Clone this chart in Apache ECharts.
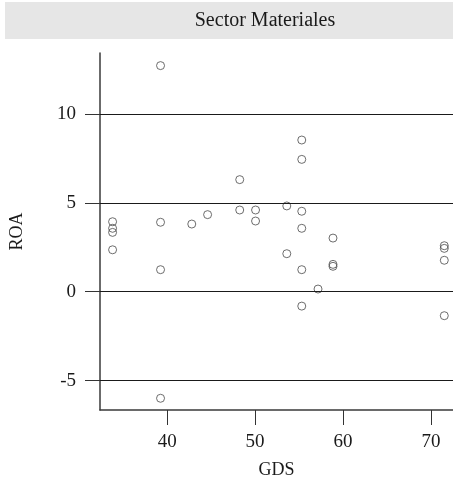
<!DOCTYPE html>
<html>
<head>
<meta charset="utf-8">
<script src="https://cdn.jsdelivr.net/npm/echarts@6/dist/echarts.min.js"></script>
<style>
  html, body { margin: 0; padding: 0; background: #fff; }
  #chart { width: 453px; height: 486px; }
</style>
</head>
<body>
<div id="chart"></div>
<script>
// Sector Materiales: GDS vs ROA, one point per firm
const panelTitle = 'Sector Materiales';
const gds = [
  33.8, 33.8, 33.8, 33.8,
  39.25, 39.25, 39.25, 39.25,
  42.8, 44.6,
  48.25, 48.25,
  50.05, 50.05,
  53.6, 53.6,
  55.3, 55.3, 55.3, 55.3, 55.3, 55.3,
  57.15,
  58.85, 58.85, 58.85,
  71.5, 71.5, 71.5, 71.5
];
const roa = [
  3.94, 3.57, 3.34, 2.36,
  12.73, 3.91, 1.24, -6.0,
  3.81, 4.34,
  6.31, 4.6,
  4.6, 3.98,
  4.83, 2.14,
  8.54, 7.45, 4.53, 3.57, 1.24, -0.81,
  0.15,
  3.02, 1.54, 1.43,
  2.59, 2.44, 1.77, -1.35
];
const xTicks = [40, 50, 60, 70];
const yTicks = [-5, 0, 5, 10];

const font = 'Liberation Serif, Times New Roman, serif';
const points = gds.map((g, i) => [g, roa[i]]);

const chart = echarts.init(document.getElementById('chart'), null, { renderer: 'canvas' });
chart.setOption({
  animation: false,
  backgroundColor: '#fff',
  graphic: [
    { type: 'rect', shape: { x: 5, y: 2, width: 448, height: 37 }, style: { fill: '#e6e6e6' }, silent: true },
    { type: 'text', x: 265, y: 21, style: { text: panelTitle, font: '20px ' + font, fill: '#1a1a1a', align: 'center', verticalAlign: 'middle' }, silent: true }
  ],
  grid: { left: 99, right: 0, top: 53, bottom: 76 },
  xAxis: {
    type: 'value',
    min: 32.37,
    max: 72.49,
    name: 'GDS',
    nameLocation: 'middle',
    nameGap: 51,
    nameTextStyle: { fontFamily: font, fontSize: 18, color: '#1a1a1a' },
    axisLine: { show: true, onZero: false, lineStyle: { color: '#3a3a3a', width: 1.5 } },
    axisTick: { show: true, length: 15, customValues: xTicks, lineStyle: { color: '#333', width: 1 } },
    axisLabel: { customValues: xTicks, margin: 23, fontFamily: font, fontSize: 19, color: '#1a1a1a' },
    splitLine: { show: false }
  },
  yAxis: {
    type: 'value',
    min: -6.66,
    max: 13.44,
    name: 'ROA',
    nameLocation: 'middle',
    nameGap: 74,
    nameRotate: 90,
    nameTextStyle: { fontFamily: font, fontSize: 18, color: '#1a1a1a' },
    axisLine: { show: true, onZero: false, lineStyle: { color: '#3a3a3a', width: 1.5 } },
    axisTick: { show: true, length: 15, customValues: yTicks, lineStyle: { color: '#333', width: 1 } },
    axisLabel: { customValues: yTicks, margin: 24, fontFamily: font, fontSize: 19, color: '#1a1a1a' },
    splitLine: { show: false }
  },
  series: [{
    type: 'scatter',
    data: points,
    symbol: 'circle',
    symbolSize: 8,
    itemStyle: { color: 'rgba(0,0,0,0)', borderColor: '#4a4a4a', borderWidth: 1 },
    markLine: {
      silent: true,
      symbol: 'none',
      label: { show: false },
      lineStyle: { color: '#1a1a1a', width: 1, type: 'solid' },
      data: yTicks.map(v => ({ yAxis: v }))
    },
    z: 3
  }]
});
</script>
</body>
</html>
